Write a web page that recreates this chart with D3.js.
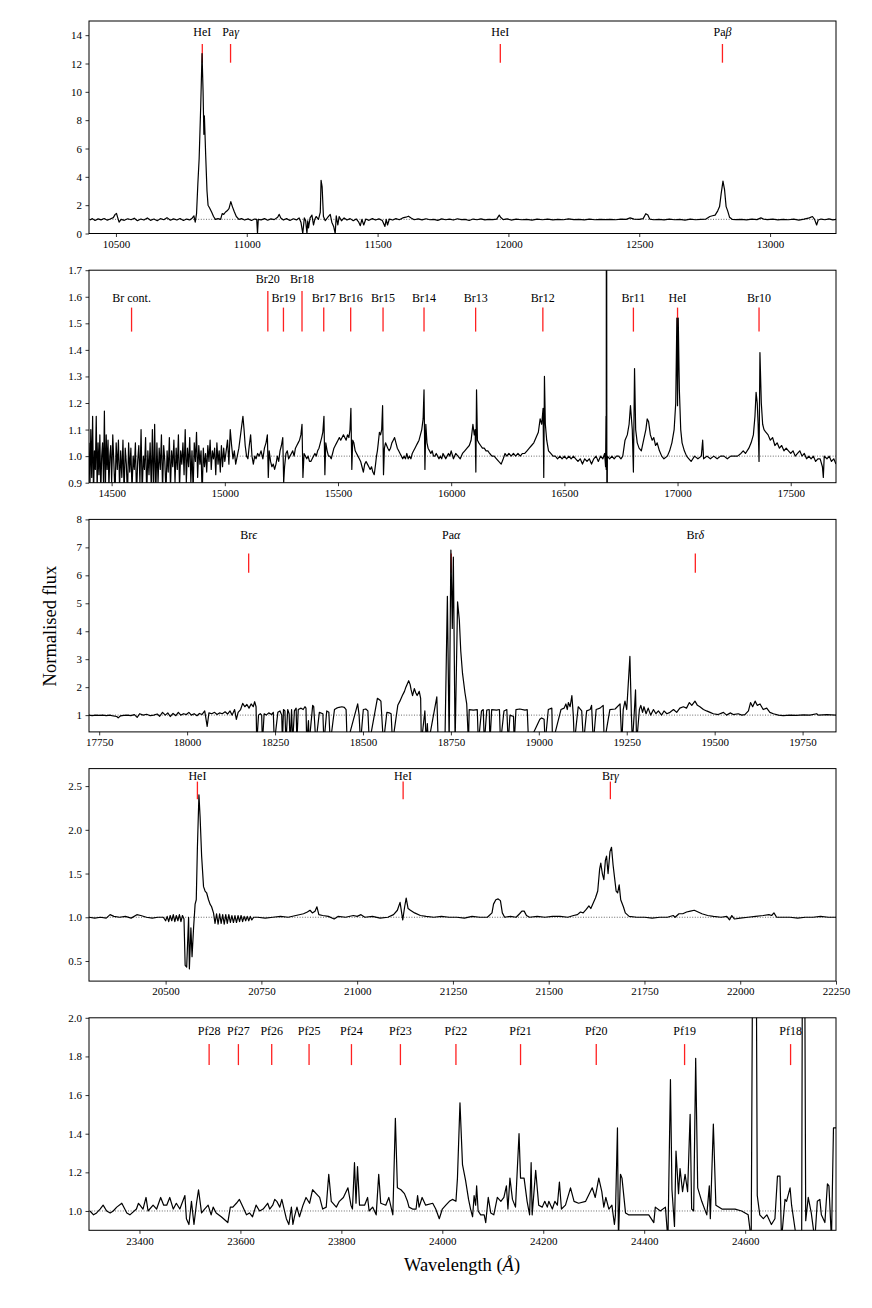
<!DOCTYPE html>
<html>
<head>
<meta charset="utf-8">
<script src="https://cdn.jsdelivr.net/npm/d3@7"></script>
<style>
body { margin: 0; background: #fff; }
svg text { font-family: "Liberation Serif", "DejaVu Serif", serif; fill: #000; }
</style>
</head>
<body>
<svg id="fig" width="872" height="1308"></svg>
<script>
// spectra: [wavelength (A), normalised flux]
const specJ = [
[10400,0.95],[10410,1.05],[10420,0.92],[10432,1.03],[10443,0.96],[10455,1.06],[10467,0.94],[10478,1.02],[10490,1.12],[10497,1.35],
[10502,1.42],[10507,1.1],[10512,0.8],[10520,1.0],[10532,0.93],[10545,1.04],[10558,0.97],[10570,1.08],[10582,0.9],[10595,1.02],
[10607,0.95],[10620,1.1],[10632,0.93],[10645,1.02],[10658,0.9],[10670,1.05],[10683,0.97],[10695,1.12],[10708,0.94],[10720,1.03],
[10733,0.95],[10745,1.06],[10758,0.92],[10770,1.02],[10782,0.96],[10792,1.1],[10798,1.25],[10803,0.8],[10808,1.4],[10813,3.5],
[10818,5.3],[10824,9.0],[10829,12.7],[10833,10.0],[10836,7.0],[10838,8.3],[10840,7.2],[10843,5.5],[10848,3.0],[10852,2.0],
[10858,1.8],[10866,1.5],[10873,1.2],[10880,1.0],[10890,1.05],[10900,1.0],[10906,1.4],[10912,1.35],[10918,1.5],[10925,1.6],
[10932,1.75],[10939,2.25],[10945,1.9],[10952,1.55],[10960,1.2],[10970,1.0],[10980,1.05],[10992,0.95],[11005,1.03],[11018,0.92],
[11030,1.02],[11038,1.0],[11041,0.0],[11044,1.0],[11055,0.96],[11068,1.05],[11080,0.94],[11092,1.03],[11105,0.98],[11118,1.15],
[11124,1.35],[11130,1.1],[11140,0.95],[11152,1.05],[11165,0.92],[11178,1.04],[11190,0.96],[11200,1.1],[11207,0.8],[11214,0.0],
[11220,1.1],[11225,0.9],[11230,0.0],[11233,0.9],[11236,0.4],[11242,1.1],[11249,1.3],[11255,0.6],[11260,1.0],[11265,1.2],
[11274,1.0],[11281,1.5],[11284,3.75],[11288,3.3],[11293,1.2],[11300,0.9],[11310,1.15],[11319,1.35],[11325,0.8],[11332,0.5],
[11338,0.0],[11342,1.25],[11348,0.6],[11353,1.2],[11362,0.9],[11372,1.1],[11383,0.95],[11395,1.05],[11407,0.9],[11418,1.03],
[11428,0.8],[11434,0.55],[11440,1.0],[11447,0.6],[11455,1.02],[11467,0.93],[11480,1.05],[11492,0.95],[11505,1.03],[11518,0.92],
[11528,0.5],[11533,1.0],[11538,0.6],[11545,1.02],[11558,0.95],[11570,1.05],[11583,0.97],[11596,1.1],[11608,1.15],[11618,1.22],
[11628,1.1],[11640,0.97],[11655,1.03],[11670,0.96],[11685,1.04],[11700,0.97],[11715,1.0],[11730,0.93],[11745,1.03],[11760,0.97],
[11775,1.02],[11790,0.95],[11805,1.04],[11820,0.98],[11835,1.0],[11850,0.92],[11865,1.02],[11880,0.97],[11895,1.03],[11910,0.96],
[11925,1.0],[11940,0.98],[11955,1.02],[11965,1.3],[11970,1.15],[11980,0.98],[11995,1.03],[12010,0.95],[12030,1.02],[12050,0.97],
[12070,1.0],[12090,0.95],[12110,1.02],[12130,0.97],[12150,1.01],[12170,0.96],[12190,1.0],[12210,0.97],[12230,1.03],[12250,0.98],
[12270,1.0],[12290,0.96],[12310,1.01],[12330,0.97],[12350,1.0],[12370,0.98],[12390,1.0],[12410,0.97],[12430,1.01],[12450,1.0],
[12465,1.1],[12480,1.02],[12500,1.0],[12515,1.05],[12525,1.4],[12533,1.3],[12540,1.02],[12555,0.97],[12575,1.0],[12595,0.96],
[12615,1.01],[12635,0.97],[12655,1.0],[12675,0.95],[12695,1.01],[12715,0.97],[12735,1.0],[12755,1.02],[12770,1.2],[12780,1.25],
[12790,1.3],[12800,1.6],[12807,1.9],[12813,2.8],[12820,3.7],[12826,3.1],[12832,1.9],[12838,1.6],[12845,1.15],[12855,1.0],
[12870,0.98],[12890,1.0],[12910,0.96],[12930,1.01],[12950,0.98],[12965,1.1],[12975,1.02],[12990,0.98],[13010,1.01],[13030,0.96],
[13050,1.0],[13070,0.97],[13090,1.01],[13110,0.95],[13130,1.02],[13150,1.1],[13162,1.2],[13170,1.0],[13178,0.6],[13184,0.95],
[13195,1.02],[13210,0.97],[13225,1.03],[13240,0.96],[13255,1.0]
];

const specH = [
[14400,1.05],[14404,0.88],[14408,1.1],[14412,0.92],[14416,1.15],[14420,0.85],[14424,1.02],[14428,0.95],[14432,1.15],[14436,0.87],
[14440,1.05],[14444,0.93],[14448,1.08],[14452,0.86],[14456,1.0],[14460,1.05],[14464,0.9],[14468,1.17],[14472,0.85],[14476,1.08],
[14480,0.95],[14484,1.06],[14488,0.88],[14492,1.0],[14496,1.04],[14500,0.9],[14505,1.08],[14510,0.97],[14515,0.85],[14520,1.05],
[14525,0.95],[14530,1.06],[14535,0.88],[14540,1.02],[14545,0.92],[14550,1.06],[14555,0.86],[14560,1.03],[14565,0.97],[14570,0.85],
[14575,1.05],[14580,0.94],[14585,1.03],[14590,0.87],[14595,1.0],[14600,0.95],[14605,1.05],[14610,0.85],[14615,0.98],[14620,1.04],
[14625,0.9],[14630,1.1],[14635,0.86],[14640,1.0],[14645,0.95],[14650,1.07],[14655,0.85],[14660,1.02],[14665,0.93],[14670,1.05],
[14675,0.88],[14680,1.1],[14685,0.86],[14690,1.12],[14695,0.85],[14700,1.05],[14705,0.9],[14710,1.03],[14715,0.95],[14720,1.08],
[14725,0.87],[14730,1.04],[14735,0.98],[14740,0.86],[14745,1.02],[14750,0.94],[14755,1.07],[14760,0.88],[14765,1.02],[14770,0.96],
[14775,1.06],[14780,0.9],[14785,1.03],[14790,0.95],[14795,1.08],[14800,0.88],[14805,1.02],[14810,0.97],[14815,1.05],[14820,0.93],
[14825,1.1],[14830,0.9],[14835,1.03],[14840,0.96],[14845,1.07],[14850,0.9],[14855,1.02],[14860,0.87],[14865,1.05],[14870,0.98],
[14875,1.09],[14880,0.92],[14885,1.04],[14890,0.97],[14895,1.02],[14900,0.85],[14905,1.03],[14910,0.96],[14915,1.01],[14920,0.94],
[14925,1.04],[14930,0.98],[14935,1.06],[14940,0.95],[14945,1.02],[14950,0.99],[14955,1.03],[14960,0.93],[14965,1.05],[14970,0.97],
[14975,1.02],[14980,0.94],[14985,1.04],[14990,0.96],[14995,1.03],[15000,0.98],[15006,1.02],[15012,1.06],[15018,0.97],[15024,1.1],
[15030,1.04],[15036,0.99],[15042,1.02],[15048,0.97],[15055,1.0],[15062,1.03],[15068,1.07],[15074,1.11],[15080,1.15],[15085,1.1],
[15090,1.04],[15096,1.0],[15102,0.99],[15108,1.04],[15114,1.08],[15120,1.0],[15126,0.97],[15132,1.0],[15138,0.99],[15145,1.01],
[15152,1.0],[15160,1.02],[15168,0.99],[15175,1.03],[15182,1.05],[15188,1.08],[15192,0.92],[15196,1.02],[15202,0.98],[15208,0.96],
[15214,0.97],[15220,0.95],[15226,0.97],[15232,1.0],[15238,0.98],[15244,1.02],[15250,1.04],[15256,1.07],[15260,0.9],[15264,0.96],
[15270,1.01],[15276,1.02],[15282,0.99],[15288,1.0],[15294,1.01],[15300,1.02],[15306,1.0],[15312,1.03],[15318,1.04],[15324,1.05],
[15330,1.06],[15336,1.08],[15341,1.12],[15345,0.92],[15350,1.01],[15356,1.0],[15362,0.99],[15368,1.0],[15374,0.98],[15380,0.98],
[15386,0.99],[15392,1.0],[15398,1.01],[15404,1.0],[15410,1.02],[15416,1.03],[15422,1.05],[15428,1.07],[15433,1.09],[15438,1.15],
[15442,0.93],[15446,1.05],[15452,1.02],[15458,1.0],[15464,1.0],[15470,0.99],[15476,1.01],[15482,1.03],[15488,1.04],[15494,1.05],
[15500,1.06],[15506,1.07],[15512,1.06],[15518,1.07],[15524,1.08],[15530,1.07],[15536,1.06],[15542,1.08],[15548,1.07],[15553,1.1],
[15557,1.18],[15561,0.95],[15565,1.06],[15570,1.05],[15576,1.02],[15582,1.01],[15588,1.0],[15594,0.99],[15600,0.98],[15606,0.96],
[15612,0.94],[15618,0.97],[15624,0.98],[15630,0.97],[15636,0.96],[15642,0.95],[15648,0.96],[15654,0.94],[15660,0.93],[15666,0.97],
[15670,1.0],[15674,1.02],[15678,1.05],[15683,1.09],[15688,1.08],[15693,1.1],[15697,1.19],[15701,0.93],[15705,1.03],[15710,1.05],
[15715,1.04],[15720,1.03],[15726,1.02],[15732,1.03],[15738,1.05],[15744,1.06],[15750,1.07],[15756,1.05],[15762,1.03],[15768,1.02],
[15774,1.01],[15780,1.0],[15786,0.99],[15792,1.0],[15798,0.99],[15804,1.01],[15810,0.99],[15816,1.0],[15822,0.99],[15828,1.01],
[15834,1.02],[15840,1.03],[15846,1.04],[15852,1.05],[15858,1.06],[15864,1.08],[15870,1.1],[15876,1.14],[15880,1.25],[15884,0.95],
[15888,1.12],[15893,1.05],[15898,1.03],[15904,1.02],[15910,1.01],[15916,1.02],[15922,1.0],[15928,1.0],[15934,1.01],[15940,1.0],
[15946,0.99],[15952,1.0],[15958,0.99],[15964,1.01],[15970,1.0],[15976,0.99],[15982,1.0],[15988,1.01],[15994,1.0],[16000,1.02],
[16010,0.99],[16020,1.01],[16030,1.0],[16040,0.99],[16050,1.01],[16060,1.02],[16070,1.03],[16080,1.04],[16088,1.06],[16096,1.12],
[16102,1.08],[16106,1.1],[16109,0.94],[16112,1.25],[16116,1.06],[16122,1.05],[16130,1.04],[16138,1.03],[16146,1.03],[16154,1.02],
[16162,1.02],[16170,1.01],[16180,1.0],[16190,1.0],[16200,0.99],[16210,0.98],[16221,0.97],[16230,0.99],[16238,1.01],[16246,1.0],
[16255,1.01],[16265,1.0],[16275,1.01],[16285,1.0],[16295,1.01],[16305,1.0],[16315,1.01],[16325,1.01],[16335,1.02],[16345,1.03],
[16355,1.04],[16365,1.05],[16375,1.07],[16385,1.09],[16393,1.14],[16400,1.12],[16406,1.18],[16409,0.92],[16412,1.3],[16416,1.12],
[16422,1.06],[16430,1.02],[16440,1.01],[16450,1.0],[16460,1.0],[16470,0.99],[16480,1.0],[16490,0.99],[16500,1.0],[16510,0.99],
[16520,1.0],[16530,0.99],[16540,1.0],[16550,0.99],[16560,0.98],[16570,0.99],[16580,0.97],[16590,0.99],[16600,0.98],[16610,0.99],
[16620,0.97],[16630,0.99],[16640,1.0],[16650,0.98],[16660,1.0],[16670,0.99],[16678,1.01],[16682,0.96],[16684,1.15],[16685,0.95],
[16686,3.0],[16688,0.5],[16690,1.0],[16700,0.99],[16710,1.0],[16720,0.99],[16730,1.0],[16740,1.0],[16750,0.99],[16758,1.0],
[16768,1.06],[16778,1.08],[16786,1.12],[16792,1.19],[16800,1.1],[16805,0.94],[16810,1.33],[16815,1.1],[16822,1.05],[16830,1.03],
[16840,1.02],[16850,1.06],[16860,1.1],[16866,1.14],[16872,1.13],[16880,1.08],[16888,1.06],[16895,1.07],[16903,1.04],[16910,1.05],
[16920,1.02],[16930,1.0],[16940,0.99],[16955,1.0],[16965,1.02],[16975,1.05],[16985,1.1],[16992,1.2],[16997,1.52],[17000,1.19],
[17003,1.52],[17008,1.25],[17014,1.1],[17020,1.05],[17030,1.02],[17040,1.0],[17050,0.99],[17060,0.98],[17075,1.0],[17090,0.99],
[17105,1.0],[17111,1.06],[17115,0.99],[17130,1.0],[17145,0.99],[17160,1.0],[17175,0.99],[17190,1.0],[17205,1.0],[17220,0.99],
[17235,1.0],[17250,1.0],[17265,1.0],[17280,1.01],[17290,1.02],[17300,1.01],[17315,1.03],[17325,1.05],[17335,1.08],[17342,1.15],
[17347,1.24],[17352,1.2],[17356,1.12],[17360,0.98],[17364,1.39],[17370,1.2],[17376,1.12],[17382,1.1],[17390,1.09],[17400,1.08],
[17410,1.06],[17420,1.07],[17430,1.04],[17440,1.05],[17450,1.03],[17460,1.04],[17470,1.02],[17480,1.03],[17490,1.02],[17500,1.01],
[17510,1.02],[17520,1.0],[17530,1.01],[17540,1.02],[17550,1.0],[17560,1.01],[17570,0.99],[17580,1.0],[17590,0.99],[17600,1.0],
[17610,0.98],[17620,0.99],[17630,0.99],[17640,0.96],[17644,0.92],[17648,1.0],[17660,0.99],[17670,1.0],[17680,0.98],[17690,0.99],
[17700,0.97]
];

const specK1 = [
[17721,1.0],[17730,0.98],[17740,1.0],[17750,0.99],[17760,1.0],[17770,0.98],[17780,1.0],[17790,0.97],[17800,0.95],[17804,0.9],
[17810,0.97],[17820,0.99],[17830,1.0],[17840,0.98],[17850,1.02],[17858,0.92],[17865,1.05],[17875,1.0],[17885,1.03],[17895,0.98],
[17905,1.0],[17915,1.04],[17922,0.96],[17930,1.1],[17938,1.0],[17945,1.08],[17952,0.95],[17960,1.06],[17968,0.98],[17975,1.1],
[17982,1.0],[17990,1.05],[17998,1.02],[18005,1.1],[18012,1.0],[18020,1.05],[18028,0.98],[18035,1.06],[18042,1.02],[18050,1.15],
[18057,0.6],[18062,1.08],[18070,1.05],[18078,1.1],[18085,1.02],[18092,1.08],[18100,1.05],[18108,1.12],[18115,1.04],[18122,1.15],
[18128,1.0],[18135,1.2],[18140,0.85],[18145,1.1],[18152,1.2],[18158,1.42],[18164,1.3],[18170,1.38],[18176,1.25],[18182,1.4],
[18188,1.3],[18192,1.48],[18196,1.3],[18198,0.0],[18203,1.0],[18208,1.05],[18212,1.0],[18214,0.0],[18219,1.05],[18225,1.0],
[18232,1.08],[18240,1.02],[18245,1.1],[18248,0.0],[18258,1.1],[18264,1.15],[18269,1.0],[18271,0.0],[18274,1.2],[18278,1.15],
[18281,0.0],[18286,1.2],[18290,1.05],[18293,0.0],[18297,1.2],[18300,0.0],[18305,1.15],[18310,1.25],[18312,0.0],[18316,1.2],
[18324,1.25],[18330,1.2],[18335,1.3],[18338,1.25],[18340,0.0],[18345,0.8],[18347,0.0],[18357,1.35],[18360,1.3],[18366,0.0],
[18376,1.1],[18386,1.05],[18389,0.0],[18397,1.15],[18403,1.1],[18407,0.0],[18419,1.2],[18425,1.25],[18432,1.28],[18440,1.3],
[18447,1.28],[18452,1.2],[18455,0.0],[18485,1.4],[18489,1.0],[18493,0.0],[18501,1.2],[18508,1.22],[18514,1.15],[18518,0.0],
[18541,1.6],[18547,1.55],[18551,1.5],[18558,0.0],[18568,1.1],[18575,1.08],[18580,1.05],[18584,0.0],[18599,1.35],[18605,1.5],
[18612,1.7],[18618,1.85],[18622,2.0],[18630,2.23],[18634,2.1],[18637,1.9],[18641,1.7],[18646,1.95],[18650,1.8],[18654,1.7],
[18660,1.85],[18664,1.6],[18666,0.0],[18676,1.15],[18680,0.0],[18683,0.7],[18686,0.0],[18710,1.65],[18714,0.0],[18733,0.0],
[18740,5.25],[18745,0.0],[18750,6.9],[18754,4.1],[18757,6.65],[18762,0.0],[18769,5.05],[18774,4.4],[18778,3.3],[18783,2.5],
[18790,1.8],[18795,1.4],[18800,0.0],[18802,1.2],[18814,1.18],[18825,1.2],[18828,0.0],[18837,1.15],[18842,1.2],[18845,0.0],
[18852,1.18],[18859,1.2],[18861,0.0],[18866,1.2],[18880,1.18],[18888,1.2],[18891,0.0],[18901,1.15],[18909,1.2],[18913,0.0],
[18918,1.0],[18928,0.95],[18930,0.0],[18935,1.2],[18946,1.22],[18961,1.18],[18967,1.2],[18971,0.0],[19003,0.85],[19008,0.9],
[19015,0.85],[19018,0.0],[19027,1.2],[19037,1.25],[19039,0.0],[19063,1.2],[19072,1.25],[19077,1.4],[19081,1.2],[19084,1.45],
[19089,1.3],[19094,1.7],[19098,1.0],[19101,0.0],[19112,1.3],[19122,1.15],[19127,0.0],[19136,1.15],[19146,1.2],[19150,1.35],
[19155,0.0],[19163,1.2],[19174,1.25],[19183,1.35],[19186,0.0],[19202,1.2],[19217,1.22],[19231,1.4],[19236,0.0],[19240,1.2],
[19245,1.5],[19250,1.2],[19259,3.1],[19263,1.1],[19266,0.0],[19271,1.0],[19275,1.9],[19278,0.0],[19286,1.2],[19290,1.35],
[19295,1.1],[19299,1.3],[19305,1.05],[19311,1.25],[19318,1.0],[19326,1.2],[19333,1.05],[19340,1.15],[19349,1.0],[19356,1.15],
[19364,1.05],[19373,1.1],[19383,1.2],[19392,1.1],[19401,1.25],[19411,1.3],[19420,1.25],[19428,1.45],[19435,1.35],[19444,1.5],
[19451,1.35],[19458,1.3],[19468,1.2],[19477,1.15],[19487,1.1],[19496,1.05],[19510,1.02],[19525,1.1],[19534,1.0],[19544,1.08],
[19553,1.02],[19567,1.05],[19577,1.0],[19586,1.02],[19596,1.15],[19602,1.45],[19608,1.3],[19615,1.5],[19621,1.35],[19629,1.4],
[19638,1.2],[19648,1.25],[19657,1.1],[19667,1.05],[19681,1.0],[19695,0.98],[19714,1.0],[19733,0.99],[19752,1.01],[19771,1.0],
[19790,1.05],[19795,1.0],[19819,1.02],[19845,1.0]
];

const specK2 = [
[20300,1.0],[20315,0.99],[20330,1.0],[20345,0.99],[20355,1.03],[20365,1.01],[20380,1.0],[20395,1.01],[20410,0.99],[20425,1.03],
[20435,1.02],[20450,1.0],[20465,0.99],[20480,1.0],[20494,1.0],[20500,0.96],[20504,1.01],[20508,0.95],[20512,1.02],[20516,0.96],
[20520,1.03],[20524,0.95],[20528,1.02],[20532,0.96],[20536,1.03],[20540,0.95],[20544,1.02],[20548,0.98],[20551,0.45],[20555,0.43],
[20560,1.0],[20562,0.41],[20566,0.88],[20569,0.55],[20573,0.88],[20577,1.15],[20580,1.2],[20583,1.8],[20587,2.4],[20590,2.15],
[20594,1.7],[20599,1.35],[20603,1.3],[20607,1.28],[20612,1.2],[20616,1.15],[20620,1.12],[20625,1.05],[20629,0.93],[20633,1.04],
[20637,0.92],[20641,1.04],[20645,0.93],[20649,1.03],[20653,0.92],[20657,1.03],[20661,0.93],[20665,1.03],[20669,0.94],[20673,1.02],
[20677,0.94],[20681,1.02],[20685,0.94],[20689,1.02],[20693,0.95],[20697,1.02],[20701,0.95],[20705,1.01],[20709,0.96],[20713,1.01],
[20717,0.96],[20721,1.01],[20725,0.97],[20730,1.0],[20740,1.0],[20760,0.99],[20780,1.0],[20800,1.01],[20820,1.0],[20840,1.02],
[20860,1.04],[20870,1.06],[20877,1.08],[20883,1.05],[20890,1.07],[20895,1.12],[20900,1.03],[20910,1.02],[20925,1.01],[20940,0.98],
[20950,1.01],[20970,1.0],[20990,1.02],[21000,1.01],[21010,1.03],[21020,1.0],[21040,1.01],[21060,0.99],[21080,1.0],[21095,1.03],
[21105,1.08],[21112,1.17],[21119,0.97],[21124,1.12],[21128,1.22],[21133,1.1],[21139,1.08],[21150,1.05],[21165,1.02],[21180,1.01],
[21200,1.0],[21220,1.01],[21240,1.0],[21260,1.0],[21280,0.99],[21300,1.01],[21320,1.0],[21340,1.0],[21352,1.05],[21356,1.15],
[21362,1.2],[21368,1.21],[21374,1.19],[21379,1.05],[21385,1.0],[21400,1.01],[21415,1.0],[21424,1.04],[21430,1.07],[21436,1.07],
[21442,1.02],[21450,1.0],[21470,1.01],[21490,1.0],[21510,1.01],[21530,1.01],[21550,1.0],[21565,1.02],[21575,1.03],[21583,1.06],
[21590,1.05],[21598,1.09],[21605,1.13],[21610,1.1],[21616,1.16],[21622,1.22],[21628,1.3],[21633,1.55],[21636,1.62],[21640,1.5],
[21644,1.43],[21648,1.65],[21651,1.7],[21655,1.5],[21660,1.75],[21664,1.8],[21668,1.6],[21672,1.45],[21676,1.3],[21680,1.28],
[21684,1.37],[21688,1.2],[21695,1.12],[21700,1.05],[21710,1.01],[21730,1.0],[21750,1.0],[21770,0.99],[21790,1.0],[21810,1.0],
[21825,1.02],[21830,1.0],[21840,1.04],[21850,1.04],[21860,1.06],[21870,1.07],[21880,1.08],[21890,1.06],[21900,1.04],[21915,1.02],
[21930,1.01],[21950,1.0],[21965,1.01],[21972,0.97],[21978,1.02],[21985,0.98],[22000,0.99],[22020,1.0],[22040,1.01],[22060,1.02],
[22075,1.03],[22082,1.02],[22088,1.05],[22095,1.0],[22110,1.0],[22130,1.0],[22150,0.99],[22170,1.0],[22190,1.0],[22210,1.01],
[22230,1.0],[22250,1.0]
];

const specL = [
[23302,1.0],[23309,0.98],[23315,0.99],[23322,1.01],[23328,1.03],[23335,1.0],[23342,0.99],[23348,1.0],[23355,1.02],[23365,1.04],
[23375,0.99],[23381,0.98],[23394,1.01],[23398,1.04],[23401,1.03],[23407,1.01],[23413,1.07],[23417,1.0],[23427,1.03],[23434,1.01],
[23442,1.07],[23448,1.03],[23454,1.03],[23460,1.07],[23467,1.01],[23473,1.04],[23480,1.01],[23490,1.08],[23493,0.96],[23498,0.93],
[23503,1.05],[23508,0.93],[23513,1.04],[23517,1.11],[23523,0.99],[23529,1.01],[23536,1.03],[23542,0.98],[23546,1.02],[23552,0.99],
[23562,0.97],[23575,0.94],[23580,1.02],[23585,1.02],[23592,1.04],[23598,1.06],[23605,1.02],[23612,0.98],[23618,0.99],[23624,0.97],
[23631,1.03],[23638,1.0],[23645,1.01],[23654,1.04],[23658,1.01],[23664,1.03],[23668,1.06],[23672,1.05],[23678,1.02],[23682,1.06],
[23691,0.96],[23696,0.93],[23701,1.02],[23704,0.93],[23707,0.97],[23712,1.02],[23717,0.97],[23724,1.03],[23730,1.07],[23737,1.04],
[23743,1.11],[23750,1.09],[23757,1.07],[23763,1.01],[23770,1.02],[23775,1.19],[23780,1.05],[23790,1.02],[23796,1.05],[23804,1.07],
[23813,1.12],[23819,1.03],[23822,1.01],[23826,1.25],[23829,1.04],[23832,1.23],[23836,1.03],[23846,1.03],[23852,1.07],[23855,1.0],
[23862,1.02],[23869,0.98],[23874,1.19],[23878,1.04],[23888,1.03],[23894,1.07],[23902,0.98],[23907,1.48],[23911,1.12],[23918,1.11],
[23925,1.09],[23931,1.05],[23934,1.02],[23941,1.01],[23948,1.01],[23951,1.08],[23954,1.02],[23960,1.07],[23967,1.03],[23981,1.04],
[23987,1.01],[23994,0.96],[24000,1.01],[24007,1.03],[24014,1.05],[24020,1.06],[24027,1.05],[24030,1.17],[24035,1.56],[24040,1.24],
[24046,1.16],[24052,1.06],[24056,1.01],[24060,0.97],[24063,1.08],[24066,1.03],[24068,1.13],[24071,1.0],[24076,0.98],[24083,0.98],
[24086,0.94],[24091,1.07],[24096,0.99],[24102,0.98],[24109,1.07],[24116,1.05],[24122,1.07],[24127,1.13],[24130,1.01],[24134,1.17],
[24139,1.06],[24145,1.02],[24152,1.4],[24155,1.17],[24162,1.17],[24168,1.05],[24173,0.98],[24176,1.25],[24178,0.98],[24185,1.21],
[24191,1.03],[24198,1.02],[24203,1.05],[24208,1.02],[24211,1.05],[24218,1.01],[24223,1.05],[24228,1.03],[24232,1.15],[24236,1.01],
[24244,1.03],[24254,1.12],[24261,1.05],[24270,1.04],[24284,1.05],[24297,1.12],[24303,1.07],[24310,1.17],[24316,1.1],[24320,1.02],
[24324,1.07],[24330,1.01],[24336,1.03],[24341,0.93],[24343,0.98],[24347,1.43],[24349,0.85],[24353,1.19],[24356,1.17],[24363,0.99],
[24369,0.98],[24382,0.98],[24396,0.98],[24409,0.98],[24419,0.94],[24422,1.02],[24432,1.0],[24442,1.02],[24447,0.85],[24452,1.68],
[24455,1.11],[24460,0.92],[24463,1.31],[24468,1.09],[24471,1.22],[24476,1.1],[24481,1.19],[24486,1.1],[24491,1.5],[24494,1.01],
[24498,1.0],[24502,1.79],[24506,1.12],[24514,1.05],[24524,0.98],[24529,1.13],[24531,0.96],[24537,1.45],[24542,1.03],[24554,1.01],
[24567,1.01],[24580,1.01],[24593,1.0],[24606,0.98],[24612,0.85],[24616,3.0],[24621,3.0],[24624,1.08],[24629,0.98],[24636,0.96],
[24643,0.98],[24652,0.93],[24659,0.96],[24664,1.18],[24669,1.18],[24672,0.85],[24679,1.06],[24682,1.05],[24689,1.12],[24692,1.03],
[24702,0.85],[24712,0.85],[24714,3.0],[24717,3.0],[24720,0.95],[24725,1.07],[24731,0.99],[24738,0.85],[24743,1.05],[24748,1.06],
[24751,0.98],[24758,0.94],[24763,1.14],[24766,1.13],[24771,0.85],[24775,1.43],[24780,1.43]
];

// line identifications [label, wavelength]
const linesJ = [["HeI",10830],["Paγ",10938],["HeI",11969],["Paβ",12818]];
const linesH = [["Br cont.",14588],["Br20",15190],["Br19",15259],["Br18",15341],["Br17",15437],["Br16",15556],
  ["Br15",15699],["Br14",15880],["Br13",16108],["Br12",16405],["Br11",16805],["HeI",17000],["Br10",17360]];
const linesK1 = [["Brϵ",18175],["Paα",18751],["Brδ",19445]];
const linesK2 = [["HeI",20583],["HeI",21120],["Brγ",21661]];
const linesL = [["Pf28",23538],["Pf27",23596],["Pf26",23662],["Pf25",23736],["Pf24",23820],["Pf23",23917],
  ["Pf22",24027],["Pf21",24155],["Pf20",24305],["Pf19",24480],["Pf18",24690]];
const raisedH = ["Br20", "Br18"];

// tick values
const xTicksJ = [10500, 11000, 11500, 12000, 12500, 13000];
const yTicksJ = [0, 2, 4, 6, 8, 10, 12, 14];
const xTicksH = [14500, 15000, 15500, 16000, 16500, 17000, 17500];
const yTicksH = [0.9, 1.0, 1.1, 1.2, 1.3, 1.4, 1.5, 1.6, 1.7];
const xTicksK1 = [17750, 18000, 18250, 18500, 18750, 19000, 19250, 19500, 19750];
const yTicksK1 = [1, 2, 3, 4, 5, 6, 7, 8];
const xTicksK2 = [20500, 20750, 21000, 21250, 21500, 21750, 22000, 22250];
const yTicksK2 = [0.5, 1.0, 1.5, 2.0, 2.5];
const xTicksL = [23400, 23600, 23800, 24000, 24200, 24400, 24600];
const yTicksL = [1.0, 1.2, 1.4, 1.6, 1.8, 2.0];

// layout
const left = 89, right = 836, panelH = 212.5, step = 249.2, top0 = 21;

const panels = [
  { data: specJ, xDom: [10397, 13252], yDom: [0, 15], xt: xTicksJ, yt: yTicksJ, fmt: d3.format("d"),
    lines: linesJ, labY: 11, mk: [23, 41.7] },
  { data: specH, xDom: [14400, 17700], yDom: [0.9, 1.7], xt: xTicksH, yt: yTicksH, fmt: d3.format(".1f"),
    lines: linesH, labY: 27.4, mk: [37.4, 61.4], raised: raisedH, labYr: 9, mkr: 20.7 },
  { data: specK1, xDom: [17721, 19845], yDom: [0.4, 8], xt: xTicksK1, yt: yTicksK1, fmt: d3.format("d"),
    lines: linesK1, labY: 15.7, mk: [34, 53.4] },
  { data: specK2, xDom: [20300, 22250], yDom: [0.27, 2.7], xt: xTicksK2, yt: yTicksK2, fmt: d3.format(".1f"),
    lines: linesK2, labY: 7, mk: [13, 30.6] },
  { data: specL, xDom: [23300, 24780], yDom: [0.9, 2.0], xt: xTicksL, yt: yTicksL, fmt: d3.format(".1f"),
    lines: linesL, labY: 13, mk: [26.3, 47.3] }
];

const svg = d3.select("#fig");
const defs = svg.append("defs");

// put greek letters in italic, like matplotlib mathtext
function setLabel(sel, str) {
    const parts = str.split(/([\u0370-\u03ff])/).filter(s => s.length);
    parts.forEach(s => {
        sel.append("tspan")
            .style("font-style", /[\u0370-\u03ff]/.test(s) ? "italic" : "normal")
            .text(s);
    });
}

panels.forEach((p, i) => {
    const top = top0 + i * step;
    const bottom = top + panelH;
    const x = d3.scaleLinear().domain(p.xDom).range([left, right]);
    const y = d3.scaleLinear().domain(p.yDom).range([bottom, top]);
    const g = svg.append("g").attr("class", "panel");

    defs.append("clipPath").attr("id", "clip" + i)
        .append("rect")
        .attr("x", left).attr("y", top)
        .attr("width", right - left).attr("height", panelH);

    // unity level
    g.append("line")
        .attr("x1", left).attr("x2", right)
        .attr("y1", y(1)).attr("y2", y(1))
        .attr("stroke", "#444")
        .attr("stroke-width", 0.8)
        .attr("stroke-dasharray", "1,1.6");

    // line markers
    const raised = p.raised || [];
    const mg = g.append("g");
    mg.selectAll("line")
        .data(p.lines)
        .join("line")
        .attr("x1", d => x(d[1])).attr("x2", d => x(d[1]))
        .attr("y1", d => top + (raised.includes(d[0]) ? p.mkr : p.mk[0]))
        .attr("y2", top + p.mk[1])
        .attr("stroke", "#ff2020")
        .attr("stroke-width", 1.3);
    mg.selectAll("text")
        .data(p.lines)
        .join("text")
        .attr("x", d => x(d[1]))
        .attr("y", d => top + (raised.includes(d[0]) ? p.labYr : p.labY))
        .attr("text-anchor", "middle")
        .attr("dominant-baseline", "central")
        .style("font-size", "12px")
        .each(function(d) { setLabel(d3.select(this), d[0]); });

    // spectrum
    g.append("path")
        .datum(p.data)
        .attr("clip-path", `url(#clip${i})`)
        .attr("fill", "none")
        .attr("stroke", "#000")
        .attr("stroke-width", 1.2)
        .attr("stroke-linejoin", "round")
        .attr("d", d3.line().x(d => x(d[0])).y(d => y(d[1])));

    // axes
    const xa = g.append("g")
        .attr("transform", `translate(0,${bottom})`)
        .call(d3.axisBottom(x).tickValues(p.xt).tickFormat(d3.format("d"))
            .tickSize(3.5).tickSizeOuter(0).tickPadding(3));
    const ya = g.append("g")
        .attr("transform", `translate(${left},0)`)
        .call(d3.axisLeft(y).tickValues(p.yt).tickFormat(p.fmt)
            .tickSize(3.5).tickSizeOuter(0).tickPadding(3.5));
    [xa, ya].forEach(a => {
        a.select(".domain").remove();
        a.selectAll("line").attr("stroke", "#000").attr("stroke-width", 0.8);
        a.selectAll("text")
            .style("font-family", '"Liberation Serif", "DejaVu Serif", serif')
            .style("font-size", "11px")
            .attr("fill", "#000");
    });

    // frame
    g.append("rect")
        .attr("x", left).attr("y", top)
        .attr("width", right - left).attr("height", panelH)
        .attr("fill", "none")
        .attr("stroke", "#000")
        .attr("stroke-width", 1);
});

// axis titles
svg.append("text")
    .attr("transform", "translate(50,626) rotate(-90)")
    .attr("text-anchor", "middle")
    .attr("dominant-baseline", "central")
    .style("font-size", "18.5px")
    .text("Normalised flux");

const xl = svg.append("text")
    .attr("x", 462).attr("y", 1265)
    .attr("text-anchor", "middle")
    .attr("dominant-baseline", "central")
    .style("font-size", "18.5px");
xl.append("tspan").text("Wavelength (");
xl.append("tspan").style("font-style", "italic").text("Å");
xl.append("tspan").text(")");
</script>
</body>
</html>
